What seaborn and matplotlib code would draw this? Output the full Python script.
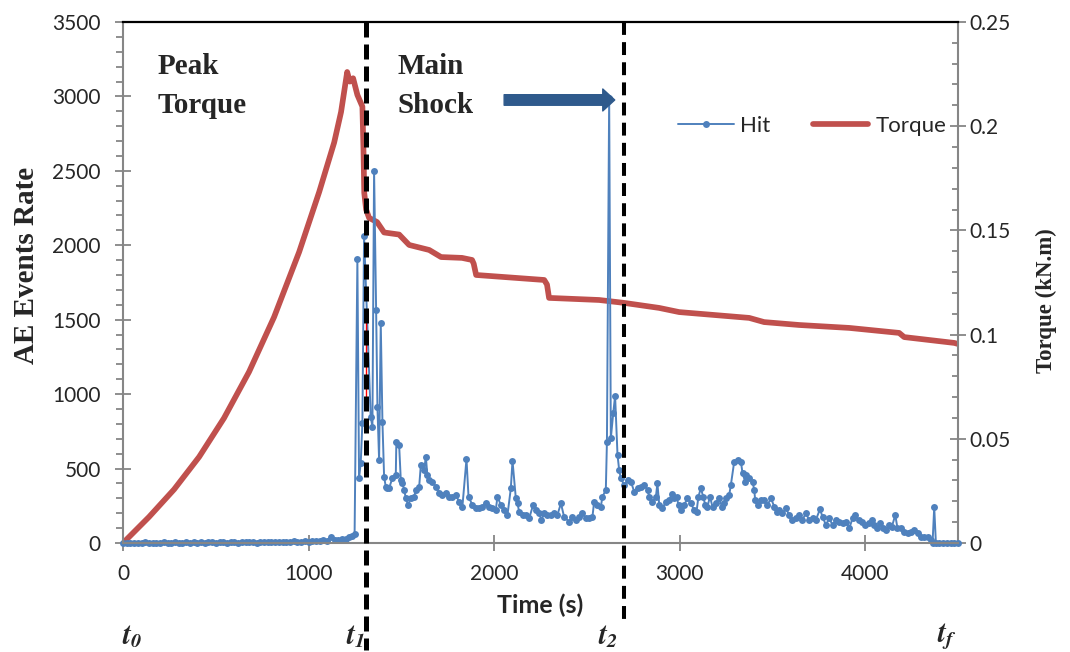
import numpy as np
import matplotlib
matplotlib.use("Agg")
import matplotlib.pyplot as plt
from matplotlib.ticker import MultipleLocator, FuncFormatter
import seaborn as sns

# ---------------------------------------------------------------
# Acoustic emission hit rate (events per sampling window)
# ---------------------------------------------------------------
baseline_time = np.arange(0, 1221, 20)          # quiet loading stage
baseline_hits = [0, 2, 1, 3, 2, 1, 4, 2, 3, 1,
                 2, 5, 3, 2, 4, 1, 3, 6, 2, 4,
                 3, 5, 2, 4, 6, 3, 5, 4, 2, 6,
                 4, 3, 7, 5, 4, 6, 3, 8, 5, 6,
                 4, 7, 9, 6, 8, 5, 10, 7, 9, 12,
                 8, 12, 10, 15, 18, 14, 40, 22, 18, 25,
                 30, 38]

active_time = [1232, 1248, 1263, 1272, 1281, 1290, 1299, 1335, 1344, 1353,
               1364, 1371, 1380, 1389, 1398, 1407, 1416, 1425, 1434, 1452,
               1470, 1473, 1488, 1497, 1506, 1515, 1524, 1536, 1551, 1569,
               1578, 1596, 1605, 1623, 1632, 1640, 1650, 1667, 1686, 1704,
               1721, 1740, 1757, 1775, 1794, 1811, 1829, 1851, 1862, 1883,
               1901, 1919, 1937, 1955, 1973, 1991, 2009, 2018, 2036, 2054,
               2072, 2090, 2099, 2117, 2126, 2135, 2153, 2171, 2189, 2210,
               2225, 2243, 2255, 2270, 2287, 2306, 2324, 2341, 2360, 2377,
               2404, 2422, 2441, 2458, 2476, 2494, 2512, 2530, 2539, 2557,
               2575, 2584, 2602, 2608, 2620, 2629, 2642, 2652, 2665, 2674,
               2683, 2701, 2719, 2737, 2755, 2773, 2791, 2809, 2827, 2836,
               2853, 2872, 2880, 2890, 2907, 2926, 2943, 2958, 2970, 2983,
               2994, 3007, 3024, 3042, 3060, 3078, 3091, 3101, 3114, 3127,
               3138, 3150, 3163, 3177, 3195, 3213, 3228, 3240, 3252, 3267,
               3276, 3294, 3312, 3330, 3339, 3353, 3360, 3375, 3393, 3402,
               3407, 3420, 3438, 3456, 3473, 3492, 3510, 3522, 3537, 3554,
               3573, 3590, 3608, 3626, 3644, 3662, 3680, 3698, 3716, 3734,
               3756, 3770, 3788, 3806, 3824, 3842, 3860, 3878, 3896, 3914,
               3932, 3946, 3964, 3982, 4000, 4022, 4036, 4049, 4061, 4079,
               4097, 4112, 4126, 4144, 4162, 4174, 4193, 4210, 4228, 4246,
               4264, 4282, 4300, 4318, 4336, 4354, 4363, 4372, 4381, 4400,
               4420, 4440, 4460, 4480, 4500]

active_hits = [48, 62, 1908, 437, 537, 806, 2062, 846, 780, 2500,
               1565, 916, 558, 1476, 815, 445, 378, 370, 369, 437,
               457, 680, 658, 423, 403, 356, 302, 255, 302, 311,
               356, 378, 524, 490, 580, 457, 423, 412, 378, 336,
               322, 336, 311, 311, 322, 277, 244, 564, 311, 255,
               233, 233, 244, 266, 244, 233, 222, 311, 255, 222,
               188, 367, 553, 300, 266, 210, 188, 188, 166, 255,
               222, 200, 155, 200, 188, 188, 200, 188, 266, 177,
               143, 177, 155, 177, 200, 166, 166, 177, 277, 255,
               244, 311, 356, 680, 2990, 703, 873, 988, 591, 490,
               434, 390, 423, 412, 345, 367, 378, 390, 356, 311,
               277, 311, 401, 255, 233, 277, 289, 327, 300, 311,
               255, 222, 255, 300, 266, 222, 210, 311, 367, 311,
               255, 244, 311, 244, 266, 300, 244, 266, 300, 322,
               390, 546, 558, 546, 468, 412, 457, 434, 412, 356,
               289, 255, 289, 289, 255, 300, 244, 210, 222, 200,
               233, 188, 155, 166, 188, 155, 200, 155, 166, 155,
               226, 177, 121, 166, 121, 155, 143, 132, 143, 99,
               166, 188, 155, 143, 121, 132, 155, 121, 99, 132,
               99, 87, 121, 110, 188, 99, 99, 76, 65, 76,
               87, 65, 42, 42, 42, 20, 0, 240, 0, 0,
               0, 0, 0, 0, 0]

hit_time = np.concatenate([baseline_time, active_time])
hit_count = np.concatenate([baseline_hits, active_hits])

# ---------------------------------------------------------------
# Applied torque (kN.m)
# ---------------------------------------------------------------
torque_time = [0, 140, 275, 410, 544, 679, 814, 949, 1057, 1138,
               1175, 1208, 1222, 1240, 1263, 1290, 1296, 1300, 1310, 1326,
               1369, 1407, 1488, 1542, 1650, 1714, 1827, 1881, 1890, 1903,
               2270, 2285, 2296, 2566, 2701, 2889, 2997, 3375, 3455, 3644,
               3914, 4183, 4210, 4480, 4500]
torque_knm = [0.0, 0.0125, 0.0257, 0.0413, 0.0599, 0.0821, 0.1084, 0.1396, 0.1684, 0.1922,
              0.2068, 0.2260, 0.2214, 0.223, 0.215, 0.2094, 0.188, 0.168, 0.160, 0.156,
              0.154, 0.149, 0.148, 0.143, 0.1406, 0.1372, 0.1368, 0.1358, 0.134, 0.1286,
              0.1262, 0.124, 0.1176, 0.1166, 0.1152, 0.1128, 0.1108, 0.108, 0.106, 0.1046,
              0.1032, 0.1008, 0.0988, 0.096, 0.0955]

# Stage boundaries and their labels
stage_times = [1312, 2701]
stage_marks = [(50, r"$\mathbfit{t}_{\mathbfit{0}}$"),
               (1255, r"$\mathbfit{t}_{\mathbfit{1}}$"),
               (2615, r"$\mathbfit{t}_{\mathbfit{2}}$"),
               (4442, r"$\mathbfit{t}_{\mathbfit{f}}$")]

hit_ticks = np.arange(0, 3501, 500)
torque_ticks = [0, 0.05, 0.1, 0.15, 0.2, 0.25]
time_ticks = [0, 1000, 2000, 3000, 4000]

BLUE = "#4F81BD"
RED = "#C0504D"
ARROW = "#2F5A8C"
GREY = "#868686"

sns.set_style("ticks")
plt.rcParams["font.family"] = ["Lato", "DejaVu Sans"]
plt.rcParams["mathtext.fontset"] = "stix"

fig = plt.figure(figsize=(10.7, 6.52), dpi=100)
ax = fig.add_axes([0.1150, 0.1672, 0.7803, 0.7991])
ax2 = ax.twinx()

# torque on the secondary axis, drawn beneath the hit series
sns.lineplot(x=torque_time, y=torque_knm, ax=ax2, color=RED, linewidth=4.1,
             estimator=None, sort=False, label="Torque",
             solid_joinstyle="round", solid_capstyle="round")
# hit markers sit on the time axis without being cut by it
sns.lineplot(x=hit_time, y=hit_count, ax=ax, color=BLUE, linewidth=1.4,
             marker="o", markersize=5.0, markeredgewidth=0,
             markeredgecolor=BLUE, estimator=None, sort=False, label="Hit",
             clip_on=False)

ax.set_zorder(ax2.get_zorder() + 1)
ax.patch.set_visible(False)

ax.set_xlim(0, 4500)
ax.set_ylim(0, 3500)
ax2.set_ylim(0, 0.25)

ax.set_xticks(time_ticks)
ax.set_yticks(hit_ticks)
ax.yaxis.set_minor_locator(MultipleLocator(100))
ax2.set_yticks(torque_ticks)
ax2.yaxis.set_minor_locator(MultipleLocator(0.01))
ax2.yaxis.set_major_formatter(FuncFormatter(lambda v, p: f"{v:g}"))

ax.tick_params(axis="x", which="major", direction="inout", length=12,
               width=1.3, color=GREY, labelsize=15, pad=9)
ax.tick_params(axis="x", which="minor", length=0)
ax.tick_params(axis="y", which="major", direction="inout", length=12,
               width=1.3, color=GREY, labelsize=15, pad=10)
ax.tick_params(axis="y", which="minor", direction="out", length=5,
               width=1.3, color=GREY)
ax2.tick_params(axis="y", which="major", direction="inout", length=12,
                width=1.3, color=GREY, labelsize=15, pad=2)
ax2.tick_params(axis="y", which="minor", direction="in", length=4,
                width=1.3, color=GREY)

for side in ["left", "bottom"]:
    ax.spines[side].set_color(GREY)
    ax.spines[side].set_linewidth(1.5)
ax.spines["right"].set_visible(False)
ax.spines["top"].set_color("black")
ax.spines["top"].set_linewidth(1.6)
for side in ["left", "bottom", "top"]:
    ax2.spines[side].set_visible(False)
ax2.spines["right"].set_color(GREY)
ax2.spines["right"].set_linewidth(1.5)

ax.set_ylabel("AE Events Rate", family="Liberation Serif", fontweight="bold",
              fontsize=21)
ax.yaxis.set_label_coords(-0.100, 0.532)
ax2.set_ylabel("Torque (kN.m)", family="Liberation Serif", fontweight="bold",
               fontsize=16.5)
ax2.yaxis.set_label_coords(1.093, 0.466)
ax.set_xlabel("Time (s)", fontweight="bold", fontsize=18, labelpad=7)

# stage boundaries
xt = ax.get_xaxis_transform()
ax.plot([stage_times[0]] * 2, [0.269, 0.441], transform=xt, color="red",
        linewidth=1.0, zorder=9)
ax.plot([stage_times[0]] * 2, [1.0, -0.205], transform=xt, color="black",
        linewidth=3.6, linestyle=(0, (3, 1.4)), clip_on=False, zorder=10)
ax.plot([stage_times[1]] * 2, [1.0, -0.154], transform=xt, color="black",
        linewidth=2.9, linestyle=(0, (3.2, 1.8)), clip_on=False, zorder=10)

for tx, lab in stage_marks:
    ax.text(tx, -0.180, lab, transform=xt, fontsize=21, ha="center",
            va="center", clip_on=False)

ax.text(0.041, 0.940, "Peak\nTorque", transform=ax.transAxes,
        family="Liberation Serif", fontweight="bold", fontsize=21,
        va="top", ha="left", linespacing=1.55)
ax.text(0.329, 0.940, "Main\nShock", transform=ax.transAxes,
        family="Liberation Serif", fontweight="bold", fontsize=21,
        va="top", ha="left", linespacing=1.55)
ax.annotate("", xy=(2650, 2976), xytext=(2054, 2976),
            arrowprops=dict(arrowstyle="simple,head_length=0.86,head_width=1.58,tail_width=0.76",
                            color=ARROW, mutation_scale=10,
                            shrinkA=0, shrinkB=0))

h1, l1 = ax.get_legend_handles_labels()
h2, l2 = ax2.get_legend_handles_labels()
if ax2.get_legend() is not None:
    ax2.get_legend().remove()
ax.legend(h1 + h2, l1 + l2, loc="center left", bbox_to_anchor=(0.641, 0.80),
          ncol=2, frameon=False, fontsize=16, handlelength=2.5,
          columnspacing=1.9, handletextpad=0.3)

fig.savefig("out.png", dpi=100)
